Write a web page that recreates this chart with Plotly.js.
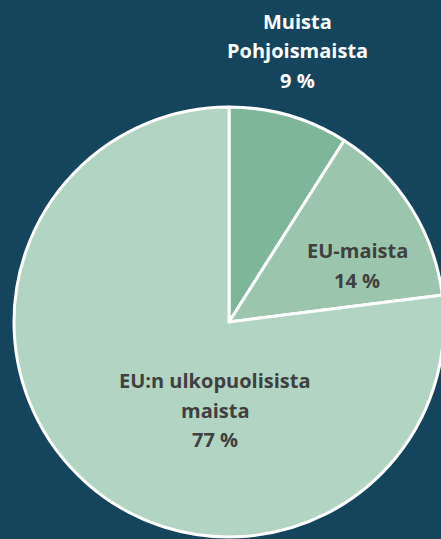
<!DOCTYPE html>
<html><head><meta charset="utf-8">
<script src="https://cdn.plot.ly/plotly-3.0.1.min.js"></script>
<style>html,body{margin:0;padding:0;overflow:hidden;background:#15455d;}</style>
</head><body>
<div id="chart"></div>
<script>
const categories = [["Muista", "Pohjoismaista"], ["EU-maista"], ["EU:n ulkopuolisista", "maista"]];
const values = [9, 14, 77];
const valueLabels = ["9 %", "14 %", "77 %"];
const colors = ["#7eb69a", "#9bc6ad", "#b2d4c3"];

const W = 460, H = 539;
const trace = {
  type: "pie",
  values: values,
  labels: categories.map(c => c.join(" ")),
  sort: false,
  direction: "clockwise",
  rotation: 0,
  textinfo: "none",
  hoverinfo: "skip",
  marker: {colors: colors, line: {color: "#ffffff", width: 3}},
  domain: {x: [14 / W, 444 / W], y: [2 / H, 432 / H]},
  showlegend: false
};

const labelPos = [
  {x: 297, y: 21, color: "#ffffff"},
  {x: 357, y: 250.5, color: "#404040"},
  {x: 215, y: 380.5, color: "#404040"}
];
const lineGap = 29.5;
const annotations = [];
categories.forEach((c, i) => {
  const lines = c.concat([valueLabels[i]]);
  lines.forEach((t, k) => {
    annotations.push({
      xref: "paper", yref: "paper",
      x: labelPos[i].x / W, y: 1 - (labelPos[i].y + k * lineGap) / H,
      xanchor: "center", yanchor: "middle",
      text: "<b>" + t + "</b>",
      showarrow: false,
      font: {family: "'Open Sans', sans-serif", size: 20, color: labelPos[i].color}
    });
  });
});

Plotly.newPlot("chart", [trace], {
  width: W, height: H,
  margin: {l: 0, r: 0, t: 0, b: 0},
  paper_bgcolor: "#15455d",
  plot_bgcolor: "#15455d",
  annotations: annotations
}, {displayModeBar: false, staticPlot: true});
</script>
</body></html>
